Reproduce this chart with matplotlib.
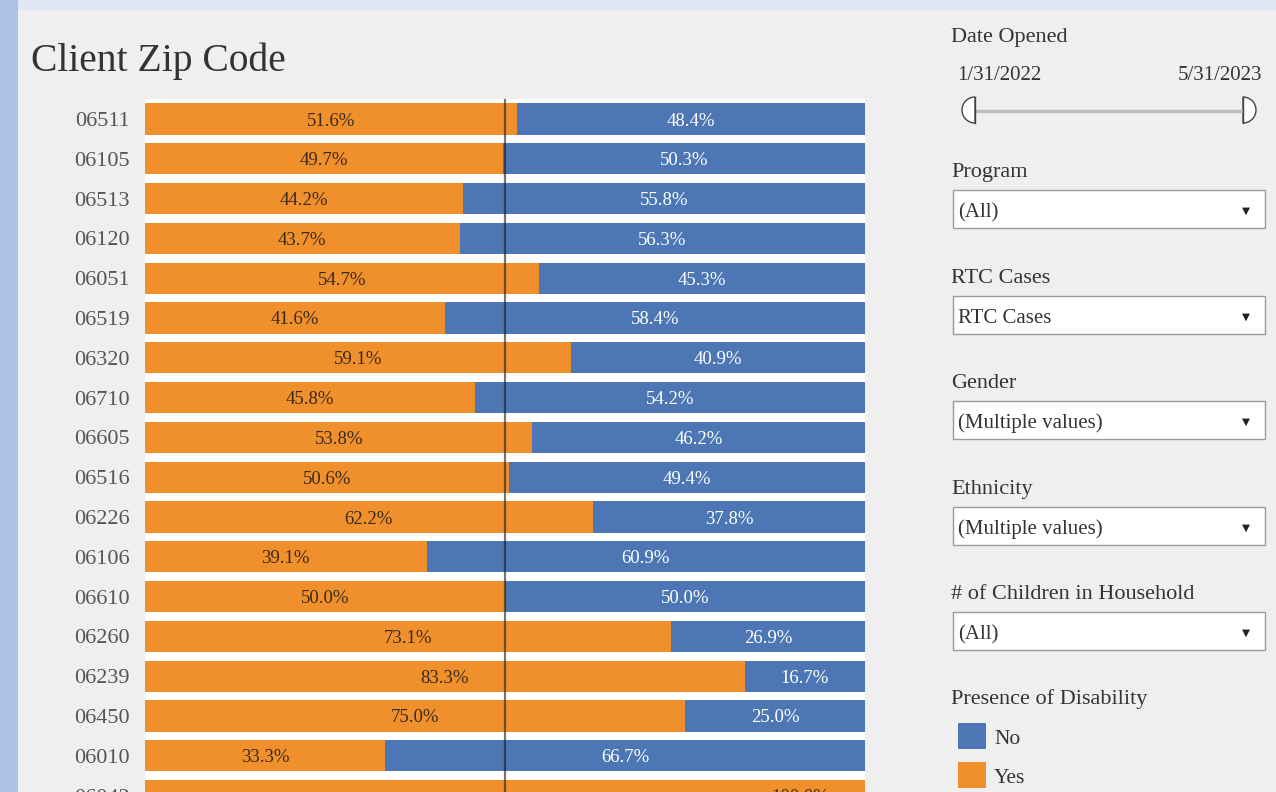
import matplotlib.pyplot as plt
from matplotlib.patches import Rectangle, Wedge

# Share of clients by presence of disability, per zip code (percent)
zip_codes = ["06511", "06105", "06513", "06120", "06051", "06519", "06320",
             "06710", "06605", "06516", "06226", "06106", "06610", "06260",
             "06239", "06450", "06010", "06042"]
yes_pct = [51.6, 49.7, 44.2, 43.7, 54.7, 41.6, 59.1, 45.8, 53.8, 50.6,
           62.2, 39.1, 50.0, 73.1, 83.3, 75.0, 33.3, 100.0]
no_pct = [48.4, 50.3, 55.8, 56.3, 45.3, 58.4, 40.9, 54.2, 46.2, 49.4,
          37.8, 60.9, 50.0, 26.9, 16.7, 25.0, 66.7, 0.0]

# filter panel
filter_names = ["Program", "RTC Cases", "Gender", "Ethnicity", "# of Children in Household"]
filter_values = ["(All)", "RTC Cases", "(Multiple values)", "(Multiple values)", "(All)"]
date_range = ["1/31/2022", "5/31/2023"]
legend_labels = ["No", "Yes"]

ORANGE = "#f0902c"
BLUE = "#4c77b4"
PANEL = "#efefef"
FONT = "Liberation Serif"
TXT = "#333333"
VA = "center_baseline"

W, H = 1276, 792
fig = plt.figure(figsize=(W / 100, H / 100), dpi=100)
fig.patch.set_facecolor(PANEL)

# background / overlay axes in pixel coordinates
bg = fig.add_axes([0, 0, 1, 1], zorder=0)
bg.set_xlim(0, W)
bg.set_ylim(H, 0)
bg.axis("off")
bg.add_patch(Rectangle((0, 0), W, 10, color="#dfe7f4", lw=0))
bg.add_patch(Rectangle((0, 0), 18, H, color="#adc2e6", lw=0))

bg.text(31, 57, "Client Zip Code", fontsize=28.5, family=FONT, color=TXT,
        va=VA, ha="left")

# date slider
bg.text(951, 35, "Date Opened", fontsize=16, family=FONT, color=TXT, va=VA)
bg.text(957, 73, date_range[0], fontsize=15, family=FONT, color=TXT, va=VA)
bg.text(1262, 73, date_range[1], fontsize=15, family=FONT, color=TXT, va=VA, ha="right")
bg.plot([976, 1242], [111, 111], color="#bdbdbd", lw=2.5, solid_capstyle="round")
bg.add_patch(Wedge((975, 110), 13, 90, 270, facecolor="white", edgecolor="#444444", lw=1))
bg.plot([975, 975], [97, 123], color="#444444", lw=1)
bg.add_patch(Wedge((1243, 110), 13, 270, 90, facecolor="white", edgecolor="#444444", lw=1))
bg.plot([1243, 1243], [97, 123], color="#444444", lw=1)

# dropdown filters
label_y = [170, 276, 381, 487, 592]
for name, value, ly in zip(filter_names, filter_values, label_y):
    bg.text(951, ly, name, fontsize=16, family=FONT, color=TXT, va=VA)
    top = ly + 20
    bg.add_patch(Rectangle((953, top), 312, 38, facecolor="white",
                           edgecolor="#9a9a9a", lw=1))
    bg.text(958, top + 20, value, fontsize=15, family=FONT, color=TXT, va=VA)
    bg.text(1246, top + 21, "\u25BC", fontsize=7.5, color="#222222",
            va="center", ha="center", family="DejaVu Sans")

# legend
bg.text(951, 697, "Presence of Disability", fontsize=16, family=FONT, color=TXT, va=VA)
for i, (lab, col) in enumerate(zip(legend_labels, [BLUE, ORANGE])):
    y0 = 723 + i * 39
    bg.add_patch(Rectangle((958, y0), 28, 26, color=col, lw=0))
    bg.text(994, y0 + 14, lab, fontsize=15.5, family=FONT, color=TXT, va=VA)

# main bar chart
n = len(zip_codes)
pitch = 39.8
top_px = 99.1
height_px = n * pitch
ax = fig.add_axes([145 / W, (H - top_px - height_px) / H, 720 / W, height_px / H], zorder=1)
ax.set_facecolor("white")
rows = list(range(n))
yes = [v / 100 for v in yes_pct]
no = [v / 100 for v in no_pct]
ax.barh(rows, yes, height=0.78, color=ORANGE, lw=0)
ax.barh(rows, no, left=yes, height=0.78, color=BLUE, lw=0)
ax.axvline(0.5, color="#1a1a1a", alpha=0.6, lw=1.6)

for i in rows:
    # a full-width bar gets its label near the right end, as in the dashboard
    x_yes = yes[i] / 2 if no[i] > 0 else 0.91
    ax.text(x_yes, i, f"{yes_pct[i]:.1f}%", ha="center", va=VA,
            fontsize=13.5, family=FONT, color="#3a2a1a")
    if no[i] > 0:
        ax.text(yes[i] + no[i] / 2, i, f"{no_pct[i]:.1f}%", ha="center", va=VA,
                fontsize=13.5, family=FONT, color="white")

ax.set_xlim(0, 1)
ax.set_ylim(n - 0.5, -0.5)
ax.set_yticks(rows)
ax.set_yticklabels(zip_codes, fontsize=16, family=FONT, color="#555555")
ax.tick_params(axis="y", length=0, pad=11)
ax.set_xticks([])
for s in ax.spines.values():
    s.set_visible(False)

fig.savefig("out.png", dpi=100, facecolor=fig.get_facecolor())
